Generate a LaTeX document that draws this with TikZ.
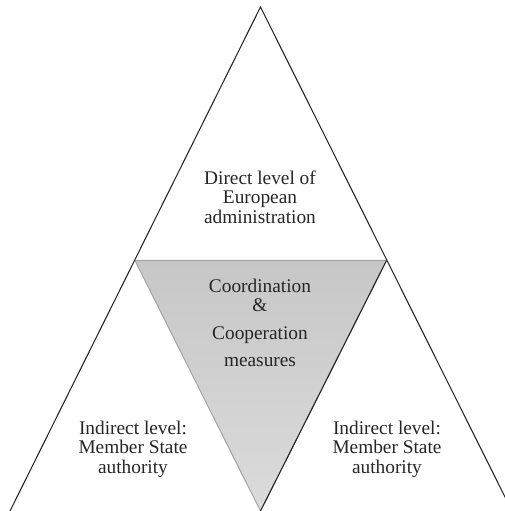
\documentclass[tikz,border=0pt]{standalone}
\usepackage{fontspec}
\setmainfont{Liberation Serif}
\newfontfamily\levelfont{Liberation Serif}
\usepackage{tikz}

\tikzset{
  leveltext/.style={inner sep=0.75pt, align=center, text=black!85, font=\levelfont\fontsize{14.5}{14.6}\selectfont},
  outerline/.style={draw=black!85, line width=0.8pt},
  coopfill/.style={draw=black!35, line width=0.8pt, top color=black!22, bottom color=black!14}
}

\begin{document}
\begin{tikzpicture}[x=0.75pt,y=0.75pt,yscale=-1,xscale=1]

            \useasboundingbox (0,0) rectangle (505,511);
            \clip (0,0) rectangle (505,511);

            % Corners
            \coordinate (apex)  at (260.5,7);
            \coordinate (bl)    at (10,511);
            \coordinate (br)    at (512,511);
            \coordinate (midl)  at (135,260.5);
            \coordinate (midr)  at (386.5,260.5);
            \coordinate (bottom) at (260.5,511);

            % Inner triangle
            \path [coopfill] (midl) -- (midr) -- (bottom) -- cycle;
            \draw [outerline] (midr) -- (bottom);

            % Outer triangle
            \draw [outerline] (bl) -- (apex) -- (br);

            % Labels
            \node (direct)  at (260,197) [leveltext] {Direct level of\\European\\administration};
            \node (coop)    at (260,323) [leveltext] {Coordination\\\&\\[6pt]Cooperation\\[6pt]measures};
            \node (indleft) at (133,449) [leveltext] {Indirect level:\\Member State\\authority};
            \node (indright) at (387,449) [leveltext] {Indirect level:\\Member State\\authority};

\end{tikzpicture}
\end{document}
